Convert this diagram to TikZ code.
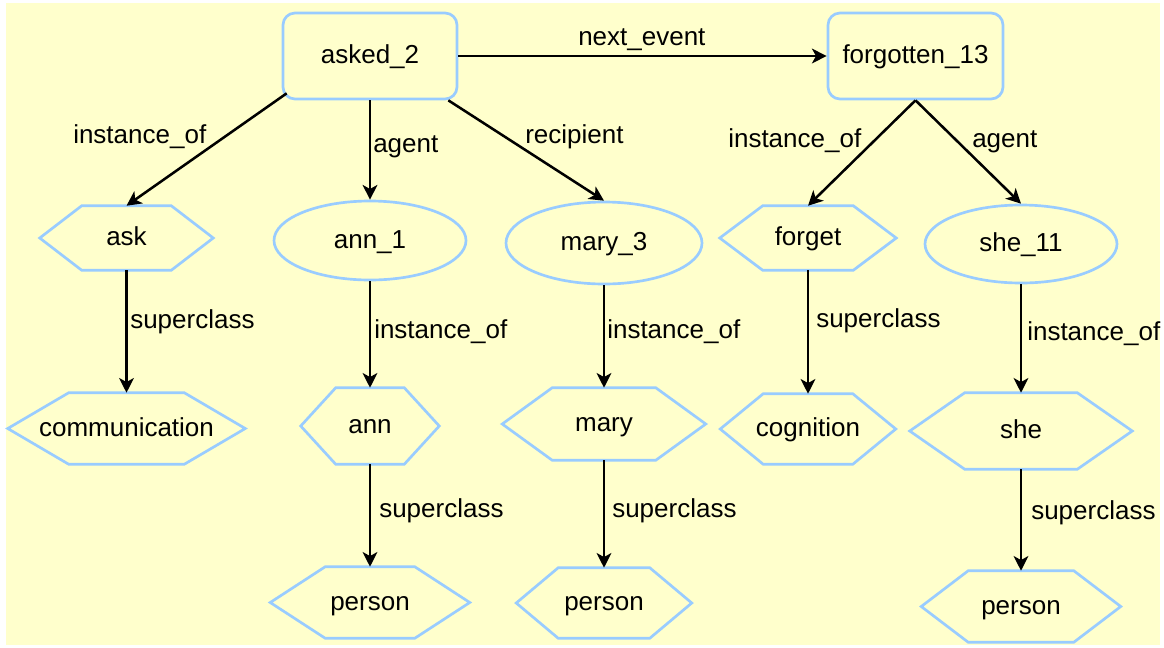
\documentclass[tikz,border=0pt]{standalone}
\usepackage{fontspec}
\setmainfont{Liberation Sans}
\usetikzlibrary{shapes.geometric,arrows.meta}
\definecolor{paper}{HTML}{FFFFCC}
\definecolor{outline}{HTML}{99CCFF}

\tikzset{
  txt/.style={font=\fontsize{19.5pt}{23pt}\selectfont, inner sep=0pt},
  boxtext/.style={txt, text height=11.5pt, text depth=0pt, align=center},
  eventbox/.style={boxtext, draw=outline, line width=2pt, rounded corners=9pt,
    minimum width=174*0.75pt, minimum height=86*0.75pt},
  entity/.style={boxtext, ellipse, draw=outline, line width=2pt},
  hexbox/.style={boxtext, rectangle},
  hexline/.style={draw=outline, line width=2pt, line join=miter},
  rel/.style={line width=1.9pt, -{Stealth[length=11pt, width=11pt, inset=3pt]}},
  lbl/.style={txt, anchor=base west},
}

% hexagon: name, x, y, half width, half height, side inset, text
\newcommand{\hexnode}[7]{%
  \node[hexbox, minimum width=#4*1.5pt, minimum height=#5*1.5pt] (#1) at (#2,#3) {#7};
  \draw[hexline] (#1.west) -- ([xshift=#6*0.75pt]#1.north west)
    -- ([xshift=-#6*0.75pt]#1.north east) -- (#1.east)
    -- ([xshift=-#6*0.75pt]#1.south east) -- ([xshift=#6*0.75pt]#1.south west) -- cycle;
}

\begin{document}
\begin{tikzpicture}[x=0.75pt, y=-0.75pt]
  \useasboundingbox (0,0) rectangle (1164,647);
  \fill[white] (0,0) rectangle (1164,647);
  \fill[paper] (6,3) rectangle (1160,645);

  % events
  \node[eventbox] (asked) at (370,56) {asked\_2};
  \node[eventbox, minimum width=175*0.75pt] (forgotten) at (915.5,56) {forgotten\_13};

  % instances
  \node[entity, minimum width=192*0.75pt, minimum height=79*0.75pt] (ann1) at (370,240.5) {ann\_1};
  \node[entity, minimum width=196*0.75pt, minimum height=82*0.75pt] (mary3) at (604,243) {mary\_3};
  \node[entity, minimum width=192*0.75pt, minimum height=78*0.75pt] (she11) at (1021,244) {she\_11};

  % classes
  \hexnode{ask}{126.5}{238}{86.5}{32}{42}{ask}
  \hexnode{comm}{126.5}{428.5}{118.5}{35.5}{61}{communication}
  \hexnode{ann}{370}{426}{69}{38}{35}{ann}
  \hexnode{annp}{370}{602.5}{99.5}{35.5}{55}{person}
  \hexnode{mary}{604}{424}{101.5}{36}{50}{mary}
  \hexnode{maryp}{604}{603}{87.5}{35}{42}{person}
  \hexnode{forget}{808}{238}{88}{32}{43}{forget}
  \hexnode{cogn}{808}{429}{87.5}{35}{43}{cognition}
  \hexnode{she}{1021}{431}{111}{38}{55}{she}
  \hexnode{shep}{1021}{606.5}{99.5}{35.5}{47}{person}

  % relations
  \draw[rel] (asked.east) -- (forgotten.west);
  \draw[rel] ([shift={(5,-7)}]asked.south west) -- (ask.north);
  \draw[rel] (asked.south) -- (ann1.north);
  \draw[rel] ([xshift=-10*0.75pt]asked.south east) -- (mary3.north);
  \draw[rel] (forgotten.south) -- (forget.north);
  \draw[rel] (forgotten.south) -- (she11.north);
  \draw[rel] (ask.south) -- (comm.north);
  \draw[rel] (ann1.south) -- (ann.north);
  \draw[rel] (ann.south) -- (annp.north);
  \draw[rel] (mary3.south) -- (mary.north);
  \draw[rel] (mary.south) -- (maryp.north);
  \draw[rel] (forget.south) -- (cogn.north);
  \draw[rel] (she11.south) -- (she.north);
  \draw[rel] (she.south) -- (shep.north);

  % relation labels
  \node[lbl] (l-next) at (578,45) {next\_event};
  \node[lbl] (l-inst1) at (73,143) {instance\_of};
  \node[lbl] (l-agent1) at (373,152) {agent};
  \node[lbl] (l-recip) at (525,143) {recipient};
  \node[lbl] (l-inst2) at (728,147) {instance\_of};
  \node[lbl] (l-agent2) at (972,147) {agent};
  \node[lbl] (l-sup1) at (130,328) {superclass};
  \node[lbl] (l-inst3) at (374,338) {instance\_of};
  \node[lbl] (l-inst4) at (607,338) {instance\_of};
  \node[lbl] (l-sup2) at (816,327) {superclass};
  \node[lbl] (l-inst5) at (1027,340) {instance\_of};
  \node[lbl] (l-sup3) at (379,517) {superclass};
  \node[lbl] (l-sup4) at (612,517) {superclass};
  \node[lbl] (l-sup5) at (1031,519) {superclass};
\end{tikzpicture}
\end{document}
